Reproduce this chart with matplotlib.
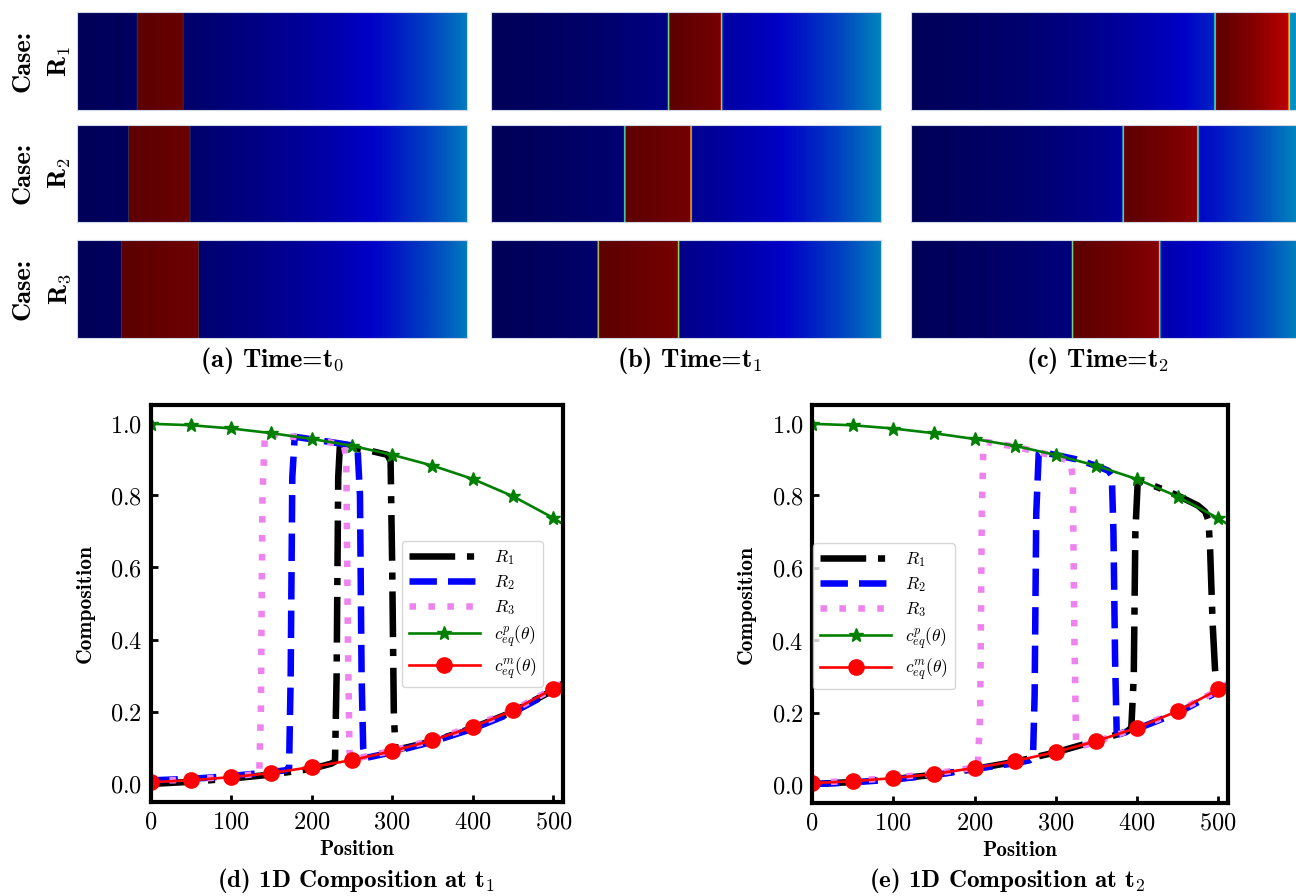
import numpy as np
import matplotlib
matplotlib.use('Agg')
import matplotlib.pyplot as plt
from matplotlib.colors import LinearSegmentedColormap
from matplotlib.ticker import FuncFormatter, MultipleLocator

plt.rcParams['mathtext.fontset'] = 'cm'
plt.rcParams['font.family'] = ['DejaVu Serif']
plt.rcParams['axes.unicode_minus'] = False
BOLD = 'cmb10'

# ---------------- data ----------------
position = [0, 50, 100, 150, 200, 250, 300, 350, 400, 450, 500, 512]
ceq_p = [0.998, 0.994, 0.985, 0.972, 0.956, 0.937, 0.912, 0.882, 0.845, 0.797, 0.737, 0.720]
ceq_m = [0.005, 0.010, 0.019, 0.030, 0.047, 0.066, 0.091, 0.121, 0.158, 0.204, 0.264, 0.282]

# composition profiles at t1 (panel d)
R1_t1_x = [0, 50, 100, 150, 200, 224, 229, 231, 233, 235, 250, 275, 294, 298, 300, 302, 304, 350, 400, 450, 500, 512]
R1_t1_y = [0.000, 0.006, 0.015, 0.026, 0.042, 0.056, 0.062, 0.30, 0.85, 0.935, 0.932, 0.922, 0.912, 0.895, 0.60, 0.20, 0.094, 0.118, 0.155, 0.200, 0.260, 0.278]
R2_t1_x = [0, 50, 100, 150, 168, 172, 174, 176, 179, 200, 225, 250, 257, 260, 262, 264, 267, 300, 350, 400, 450, 500, 512]
R2_t1_y = [0.010, 0.014, 0.022, 0.033, 0.038, 0.045, 0.30, 0.85, 0.962, 0.955, 0.947, 0.938, 0.930, 0.80, 0.30, 0.10, 0.072, 0.088, 0.117, 0.153, 0.198, 0.258, 0.276]
R3_t1_x = [0, 50, 100, 130, 135, 137, 139, 142, 150, 200, 240, 243, 245, 247, 250, 300, 350, 400, 450, 500, 512]
R3_t1_y = [0.008, 0.012, 0.021, 0.027, 0.030, 0.20, 0.80, 0.968, 0.970, 0.955, 0.940, 0.90, 0.40, 0.09, 0.068, 0.092, 0.122, 0.159, 0.204, 0.264, 0.282]

# composition profiles at t2 (panel e)
R1_t2_x = [0, 50, 100, 150, 200, 250, 300, 350, 388, 393, 396, 398, 401, 425, 450, 475, 484, 488, 490, 493, 496, 498, 500, 512]
R1_t2_y = [0.002, 0.008, 0.016, 0.028, 0.044, 0.064, 0.090, 0.122, 0.148, 0.158, 0.30, 0.70, 0.843, 0.823, 0.800, 0.772, 0.755, 0.730, 0.65, 0.45, 0.32, 0.275, 0.266, 0.282]
R2_t2_x = [0, 50, 100, 150, 200, 250, 268, 272, 274, 276, 279, 282, 300, 325, 350, 365, 369, 371, 373, 375, 378, 400, 450, 500, 512]
R2_t2_y = [0.002, 0.007, 0.015, 0.027, 0.044, 0.060, 0.068, 0.075, 0.25, 0.75, 0.915, 0.920, 0.912, 0.900, 0.882, 0.868, 0.855, 0.70, 0.35, 0.145, 0.140, 0.155, 0.199, 0.258, 0.278]
R3_t2_x = [0, 50, 100, 150, 200, 204, 207, 209, 211, 214, 250, 300, 318, 321, 323, 325, 328, 350, 400, 450, 500, 512]
R3_t2_y = [0.006, 0.011, 0.020, 0.031, 0.048, 0.050, 0.20, 0.75, 0.94, 0.948, 0.935, 0.908, 0.895, 0.85, 0.40, 0.12, 0.104, 0.120, 0.157, 0.203, 0.262, 0.280]

# precipitate front positions seen in the 2D maps (left, right) for R1, R2, R3
front_t0_left = [77, 66, 57]
front_t0_right = [136, 145, 156]
front_t1_left = [227, 171, 137]
front_t1_right = [295, 256, 240]
front_t2_left = [390, 272, 207]
front_t2_right = [485, 368, 319]

case_labels = [r'R$_\mathbf{1}$', r'R$_\mathbf{2}$', r'R$_\mathbf{3}$']
time_captions = [r'(a) Time=t$_\mathbf{0}$', r'(b) Time=t$_\mathbf{1}$', r'(c) Time=t$_\mathbf{2}$']
plot_captions = [r'(d) 1D Composition at t$_\mathbf{1}$', r'(e) 1D Composition at t$_\mathbf{2}$']
legend_labels = [r'$R_1$', r'$R_2$', r'$R_3$', r'$c^p_{eq}(\theta)$', r'$c^m_{eq}(\theta)$']

# ---------------- figure ----------------
W, H = 1296, 896
fig = plt.figure(figsize=(W / 100, H / 100), dpi=100)


def px_axes(x0, y0, x1, y1):
    return fig.add_axes([x0 / W, 1 - y1 / H, (x1 - x0) / W, (y1 - y0) / H])


cmap = LinearSegmentedColormap.from_list('phase', [
    (0.00, (0.00, 0.00, 0.34)),
    (0.14, (0.00, 0.00, 0.78)),
    (0.27, (0.00, 0.50, 0.74)),
    (0.40, (0.00, 0.85, 0.90)),
    (0.55, (0.50, 1.00, 0.50)),
    (0.66, (1.00, 0.95, 0.00)),
    (0.78, (1.00, 0.30, 0.00)),
    (0.88, (0.78, 0.00, 0.00)),
    (0.95, (0.52, 0.00, 0.00)),
    (1.00, (0.37, 0.00, 0.00)),
])


def strip_field(xl, xr, w):
    xs = np.linspace(0, 500, 2001)
    cmat = np.interp(xs, position, ceq_m)
    cpre = np.interp(xs, position, ceq_p)
    phi = np.clip((xs - (xl - w)) / (2 * w), 0, 1) * np.clip(((xr + w) - xs) / (2 * w), 0, 1)
    return cmat + phi * (cpre - cmat)


col_x = [(77, 467), (491, 881), (911, 1301)]
row_y = [(12, 110), (125, 222), (240, 338)]
fronts = [(front_t0_left, front_t0_right, 0.2),
          (front_t1_left, front_t1_right, 1.6),
          (front_t2_left, front_t2_right, 1.6)]

for ci, (x0, x1) in enumerate(col_x):
    fl, fr, w = fronts[ci]
    for ri, (y0, y1) in enumerate(row_y):
        ax = px_axes(x0, y0, x1, y1)
        f = strip_field(fl[ri], fr[ri], w)
        ax.imshow(f[None, :], aspect='auto', extent=[0, 500, 0, 1], cmap=cmap,
                  vmin=0, vmax=f.max(), interpolation='antialiased')
        ax.set_xticks([])
        ax.set_yticks([])
        for s in ax.spines.values():
            s.set_color('#cfd6e6')
            s.set_linewidth(0.8)

for ri, (y0, y1) in enumerate(row_y):
    yc = 1 - (y0 + y1) / 2 / H
    fig.text(23 / W, yc, 'Case:', rotation=90, ha='center', va='center',
             fontsize=19, family=BOLD)
    fig.text(60 / W, yc, case_labels[ri], rotation=90, ha='center', va='center',
             fontsize=19, family=BOLD)

for ci, cx in enumerate([272, 690, 1098]):
    fig.text(cx / W, 1 - 360 / H, time_captions[ci], ha='center', va='center',
             fontsize=19, family=BOLD)

# ---------------- 1D composition plots ----------------
panels = [
    ((150.5, 405, 563, 802), (R1_t1_x, R1_t1_y, R2_t1_x, R2_t1_y, R3_t1_x, R3_t1_y),
     ('upper right', (0.9515, 0.657)), 356),
    ((812, 405, 1228, 803), (R1_t2_x, R1_t2_y, R2_t2_x, R2_t2_y, R3_t2_x, R3_t2_y),
     ('upper left', (0.003, 0.653)), 1007),
]

for pi, (box, d, (lloc, lanchor), capx) in enumerate(panels):
    ax = px_axes(*box)
    lw = 4.7
    ax.plot(d[0], d[1], color='black', lw=lw, dashes=(7.0, 1.8, 1.1, 1.8), label=legend_labels[0])
    ax.plot(d[2], d[3], color='blue', lw=lw, dashes=(4.2, 1.7), label=legend_labels[1])
    ax.plot(d[4], d[5], color='violet', lw=lw, dashes=(1.0, 1.9), label=legend_labels[2])
    ax.plot(position, ceq_p, color='green', lw=1.9, marker='*', ms=10,
            markevery=slice(0, 11), label=legend_labels[3])
    ax.plot(position, ceq_m, color='red', lw=1.9, marker='o', ms=11,
            markevery=slice(0, 11), label=legend_labels[4])
    ax.set_xlim(0, 512)
    ax.set_ylim(-0.05, 1.05)
    ax.xaxis.set_major_locator(MultipleLocator(100))
    ax.yaxis.set_major_locator(MultipleLocator(0.2))
    ax.xaxis.set_major_formatter(FuncFormatter(lambda v, p: rf'${v:.0f}$'))
    ax.yaxis.set_major_formatter(FuncFormatter(lambda v, p: rf'${v:.1f}$'))
    ax.tick_params(direction='in', length=5, width=2, labelsize=17.5, pad=6)
    for s in ax.spines.values():
        s.set_linewidth(3)
    ax.set_xlabel('Position', fontsize=15, family=BOLD)
    ax.set_ylabel('Composition', fontsize=15.5, family=BOLD)
    ax.xaxis.set_label_coords(0.5, -0.095)
    ax.yaxis.set_label_coords(-0.135, 0.5)
    ax.legend(loc=lloc, bbox_to_anchor=lanchor, borderaxespad=0, fontsize=12.5,
              handlelength=4.1, handletextpad=0.8, labelspacing=0.35)
    fig.text(capx / W, 1 - 880 / H, plot_captions[pi], ha='center', va='center',
             fontsize=18, family=BOLD)

fig.savefig('out.png', dpi=100)
